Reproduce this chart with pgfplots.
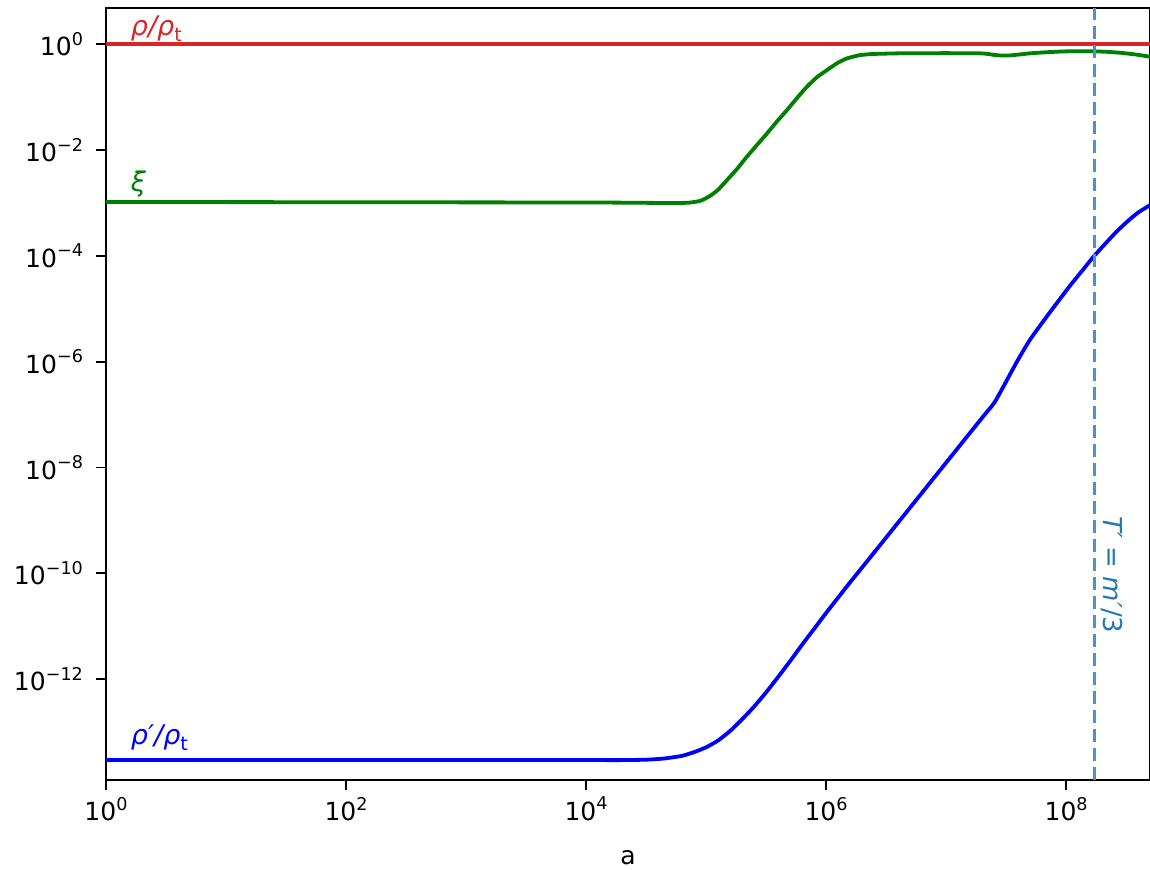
\documentclass[border=0pt]{standalone}
\usepackage{fontspec}
\setmainfont{DejaVu Sans}
\usepackage{pgfplots}
\pgfplotsset{compat=1.18}

\definecolor{mplred}{HTML}{D62728}
\definecolor{mplgreen}{HTML}{008000}
\definecolor{mplblue}{HTML}{0000FF}
\definecolor{tabblue}{HTML}{1F77B4}

% power-of-ten tick label in the text font
\newcommand{\pw}[1]{10\raisebox{0.42em}{\fontsize{8.8}{10}\selectfont #1}}
\newcommand{\sub}[1]{\raisebox{-0.22em}{\fontsize{9.5}{11}\selectfont\upshape #1}}

\begin{document}
\begin{tikzpicture}
\begin{axis}[
  at={(0,0)}, anchor=south west,
  width=522pt, height=386pt, scale only axis,
  xmode=log, ymode=log,
  xmin=1, xmax=5e8, ymin=1.24e-14, ymax=4.86,
  xtick={1,1e2,1e4,1e6,1e8},
  xticklabels={\pw{0},\pw{2},\pw{4},\pw{6},\pw{8}},
  ytick={1e-12,1e-10,1e-8,1e-6,1e-4,1e-2,1},
  yticklabels={\pw{−12},\pw{−10},\pw{−8},\pw{−6},\pw{−4},\pw{−2},\pw{0}},
  xminorticks=false, yminorticks=false,
  tick align=outside, xtick pos=bottom, ytick pos=left,
  major tick length=5pt,
  every tick/.style={black, line width=0.9pt},
  axis line style={line width=1pt},
  tick label style={font=\fontsize{12.5}{14}\selectfont},
  yticklabel style={xshift=-3pt},
  xlabel={a},
  xlabel style={font=\fontsize{12.5}{14}\selectfont, at={(axis description cs:0.5,0)},
    anchor=center, inner sep=0pt, yshift=-39pt},
  clip=true,
]
% rho / rho_t
\addplot[mplred, line width=1.9pt] coordinates {(1,1) (5e8,1)};

% xi
\addplot[mplgreen, line width=1.9pt, smooth, tension=0.3] coordinates {
 (1,1.047e-3) (100,1.035e-3) (1e4,1.023e-3) (2.512e4,1.012e-3) (5.012e4,1.0e-3)
 (7.079e4,1.012e-3) (8.913e4,1.096e-3) (1.072e5,1.349e-3) (1.259e5,1.778e-3)
 (1.496e5,2.72e-3) (1.820e5,4.47e-3) (2.188e5,7.50e-3) (2.661e5,1.259e-2)
 (3.236e5,2.09e-2) (3.890e5,3.47e-2) (4.732e5,5.75e-2) (5.754e5,9.77e-2)
 (6.918e5,0.158) (8.414e5,0.240) (1.019e6,0.327) (1.230e6,0.437)
 (1.496e6,0.543) (1.905e6,0.624) (2.455e6,0.656) (4.169e6,0.676)
 (1e7,0.681) (1.905e7,0.676) (2.188e7,0.661) (2.512e7,0.631)
 (2.884e7,0.614) (3.311e7,0.614) (3.981e7,0.638) (5.012e7,0.676)
 (7.079e7,0.711) (9.441e7,0.733) (1.259e8,0.741) (1.679e8,0.738)
 (2.239e8,0.719) (2.818e8,0.692) (3.715e8,0.646) (5.0e8,0.583)
};

% rho' / rho_t
\addplot[mplblue, line width=1.9pt, smooth, tension=0.3] coordinates {
 (1,2.95e-14) (100,2.95e-14) (1e4,2.95e-14) (1.995e4,2.95e-14) (3.162e4,3.0e-14)
 (4.467e4,3.16e-14) (6.310e4,3.55e-14) (7.943e4,4.17e-14) (1e5,5.13e-14)
 (1.259e5,6.92e-14) (1.585e5,1.047e-13) (1.995e5,1.738e-13) (2.512e5,3.02e-13)
 (3.162e5,5.62e-13) (3.981e5,1.096e-12) (5.012e5,2.19e-12) (6.310e5,4.47e-12)
 (7.943e5,8.91e-12) (1e6,1.778e-11) (1.259e6,3.47e-11) (1.585e6,6.76e-11)
 (1.995e6,1.288e-10) (6.310e6,3.35e-9) (1.995e7,8.71e-8) (2.512e7,1.66e-7)
 (3.020e7,3.47e-7) (3.890e7,1.0e-6) (5.012e7,2.63e-6) (7.413e7,8.91e-6)
 (1.072e8,2.69e-5) (1.349e8,5.13e-5) (1.698e8,9.77e-5) (2.138e8,1.738e-4)
 (2.630e8,2.88e-4) (3.311e8,4.68e-4) (3.981e8,6.61e-4) (5.0e8,9.12e-4)
};

% T' = m'/3
\addplot[tabblue!80!white, line width=1.6pt, dash pattern=on 6.5pt off 3pt]
  coordinates {(1.72e8,1.24e-14) (1.72e8,4.86)};

\node[anchor=base west, inner sep=0pt, text=mplred, font=\fontsize{13.5}{15}\selectfont]
  at (axis cs:1.6,1.44) {\itshape ρ/ρ\sub{t}};
\node[anchor=base west, inner sep=0pt, text=mplgreen, font=\fontsize{13.5}{15}\selectfont]
  at (axis cs:1.6,1.62e-3) {\itshape ξ};
\node[anchor=base west, inner sep=0pt, text=mplblue, font=\fontsize{13.5}{15}\selectfont]
  at (axis cs:1.6,5.9e-14) {\itshape ρ′/ρ\sub{t}};
\node[rotate=-90, anchor=center, inner sep=0pt, text=tabblue, font=\fontsize{13}{15}\selectfont]
  at (axis cs:2.42e8,9.3e-11) {\itshape T′\upshape\ = \itshape m′\upshape /3};
\end{axis}
\pgfresetboundingbox
\path[use as bounding box] (-53pt,-45pt) rectangle (522pt,390pt);
\end{tikzpicture}
\end{document}
